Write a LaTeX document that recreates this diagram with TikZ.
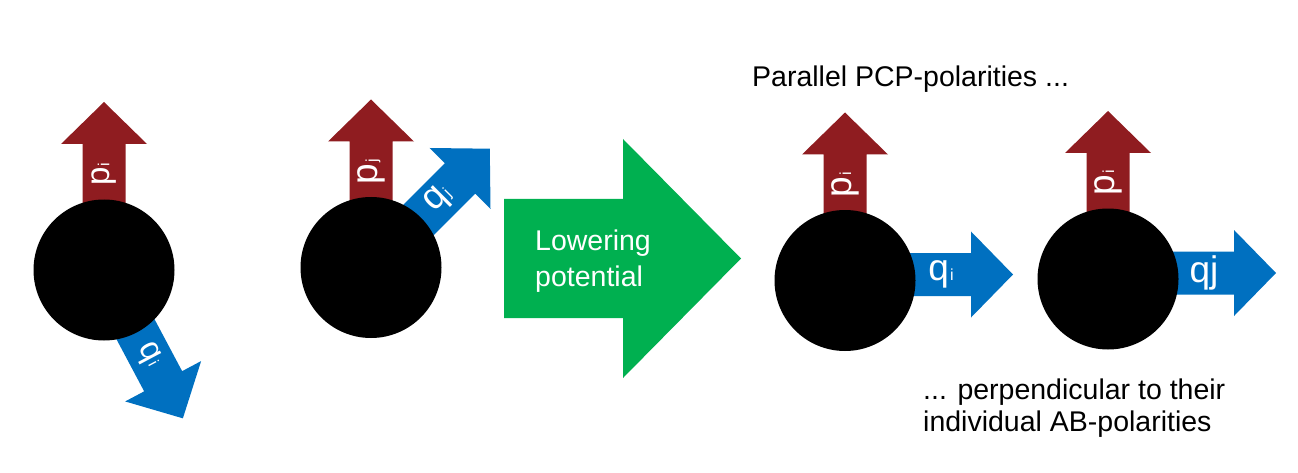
\documentclass[tikz,border=0pt]{standalone}
\usepackage{fontspec}
\setmainfont{Liberation Sans}
\usetikzlibrary{positioning}
\definecolor{pcpred}{RGB}{143,28,32}
\definecolor{abblue}{RGB}{0,112,192}
\definecolor{lowgreen}{RGB}{0,176,80}
\tikzset{
  cell/.style={circle, fill=black, minimum size=141pt, inner sep=0pt},
  poltext/.style={text=white, inner sep=0pt, font=\fontsize{37}{37}\selectfont},
  note/.style={inner sep=0pt, align=left, font=\fontsize{28.5}{32}\selectfont},
  polarity/.pic={
    \path[pic actions] (0,-21.5) -- (126,-21.5) -- (126,-43) -- (168,0)
      -- (126,43) -- (126,21.5) -- (0,21.5) -- cycle;
    \node[poltext, transform shape] (-lab) at (96,0) {#1};
  }
}
\newcommand{\idx}[1]{\kern1pt{\fontsize{16}{16}\selectfont #1}}
\newcommand{\smallpol}[1]{{\fontsize{33}{33}\selectfont #1}}

\begin{document}
\begin{tikzpicture}[x=1pt, y=1pt]
  \useasboundingbox (0,0) rectangle (1298,472);
  % cell centres
  \coordinate (o1) at (104,202);
  \coordinate (o2) at (371,204.5);
  \coordinate (o3) at (845,191.5);
  \coordinate (o4) at (1108,193);

  % polarities, drawn behind the cells
  \pic[fill=pcpred, rotate=90] (pcp1) at (o1) {polarity={\smallpol{p}\idx{i}}};
  \pic[fill=abblue, rotate=-62] (ab1) at (o1) {polarity={\smallpol{q}\idx{i}}};
  \pic[fill=pcpred, rotate=90] (pcp2) at (o2) {polarity=p\idx{j}};
  \pic[fill=abblue, rotate=45] (ab2) at (o2) {polarity=q\idx{j}};
  \pic[fill=pcpred, rotate=90] (pcp3) at (o3) {polarity=p\idx{i}};
  \pic[fill=abblue] (ab3) at ([yshift=6pt]o3) {polarity=q\idx{i}};
  \pic[fill=pcpred, rotate=90] (pcp4) at (o4) {polarity=p\idx{i}};
  \pic[fill=abblue] (ab4) at ([yshift=6pt]o4) {polarity=qj};

  % cells
  \node[cell] (cell1) at (o1) {};
  \node[cell] (cell2) at (o2) {};
  \node[cell] (cell3) at (o3) {};
  \node[cell] (cell4) at (o4) {};

  % lowering potential
  \fill[lowgreen] (504,154) -- (623,154) -- (623,94) -- (741,213.5)
    -- (623,333) -- (623,273) -- (504,273) -- cycle;
  \node[note, text=white, anchor=west, font=\fontsize{28.5}{36}\selectfont] (lowering) at (535,211) {Lowering\\potential};

  % notes
  \node[note, anchor=base west] (parallel) at (752,385) {Parallel PCP-polarities ...};
  \node[note, anchor=west] (perp) at (923,63.5) {... perpendicular to their\\individual AB-polarities};
\end{tikzpicture}
\end{document}
